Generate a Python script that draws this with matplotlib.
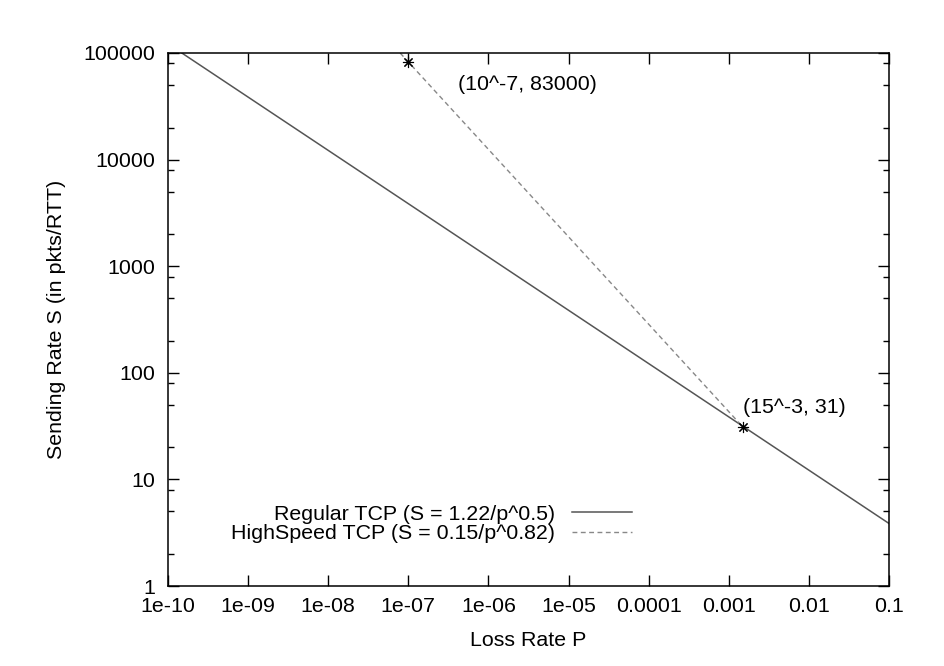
import numpy as np
import matplotlib.pyplot as plt
from matplotlib.ticker import FixedLocator, NullFormatter, NullLocator

plt.rcParams['font.family'] = ['Liberation Sans', 'DejaVu Sans']

# line end points (p, S)
reg_p = [1e-10, 1e-1]
reg_s = [122000, 3.86]
hs_p = [7.9e-8, 1.5e-3]
hs_s = [100000, 31]

# marked points and their labels
pts_p = [1e-7, 1.5e-3]
pts_s = [83000, 31]
pts_text = ["(10^-7, 83000)", "(15^-3, 31)"]
pts_offset = [(50, -23), (0, 20)]  # pixels

xticks = [1e-10, 1e-9, 1e-8, 1e-7, 1e-6, 1e-5, 1e-4, 1e-3, 1e-2, 1e-1]
xtick_labels = ["1e-10", "1e-09", "1e-08", "1e-07", "1e-06", "1e-05",
                "0.0001", "0.001", "0.01", "0.1"]
yticks = [1, 10, 100, 1000, 10000, 100000]
ytick_labels = ["1", "10", "100", "1000", "10000", "100000"]

fs = 15.4

fig = plt.figure(figsize=(9.45, 6.66), dpi=100)
ax = fig.add_axes([168/945, 1-586/666, (889-168)/945, (586-53)/666])

ax.plot(reg_p, reg_s, color="#555555", lw=1.1,
        label="Regular TCP (S = 1.22/p^0.5)")
ax.plot(hs_p, hs_s, color="#888888", lw=1.0, dashes=(3.5, 2.5),
        label="HighSpeed TCP (S = 0.15/p^0.82)")
ax.plot(pts_p, pts_s, ls="none", marker=(8, 2, 0), ms=8, mew=0.8,
        color="black")

for p, s, t, off in zip(pts_p, pts_s, pts_text, pts_offset):
    ax.annotate(t, (p, s), xytext=off, textcoords="offset pixels",
                fontsize=fs, ha="left", va="center")

ax.set_xscale('log')
ax.set_yscale('log')
ax.set_xlim(1e-10, 1e-1)
ax.set_ylim(1, 1e5)

ax.xaxis.set_major_locator(FixedLocator(xticks))
ax.set_xticklabels(xtick_labels)
ax.xaxis.set_minor_locator(NullLocator())
ax.yaxis.set_major_locator(FixedLocator(yticks))
ax.set_yticklabels(ytick_labels)
minor_y = [m * 10**d for d in range(0, 5) for m in (2, 5, 8)]
ax.yaxis.set_minor_locator(FixedLocator(minor_y))
ax.yaxis.set_minor_formatter(NullFormatter())

ax.tick_params(which="both", direction="in", top=True, right=True,
               labelsize=fs, width=1.0, color="black")
ax.tick_params(which="major", length=8)
ax.tick_params(which="minor", length=4.5)
ax.tick_params(axis="x", pad=8)
ax.tick_params(axis="y", pad=9)
for sp in ax.spines.values():
    sp.set_linewidth(1.1)

ax.set_xlabel("Loss Rate P", fontsize=fs, labelpad=11)
ax.set_ylabel("Sending Rate S (in pkts/RTT)", fontsize=fs, labelpad=13)

ax.legend(loc="center right", bbox_to_anchor=(632/945, 1-524/666),
          bbox_transform=fig.transFigure, frameon=False, markerfirst=False,
          fontsize=fs, handlelength=2.8, handletextpad=0.8,
          labelspacing=0.02, borderpad=0, borderaxespad=0)

fig.savefig("out.png", dpi=100)
